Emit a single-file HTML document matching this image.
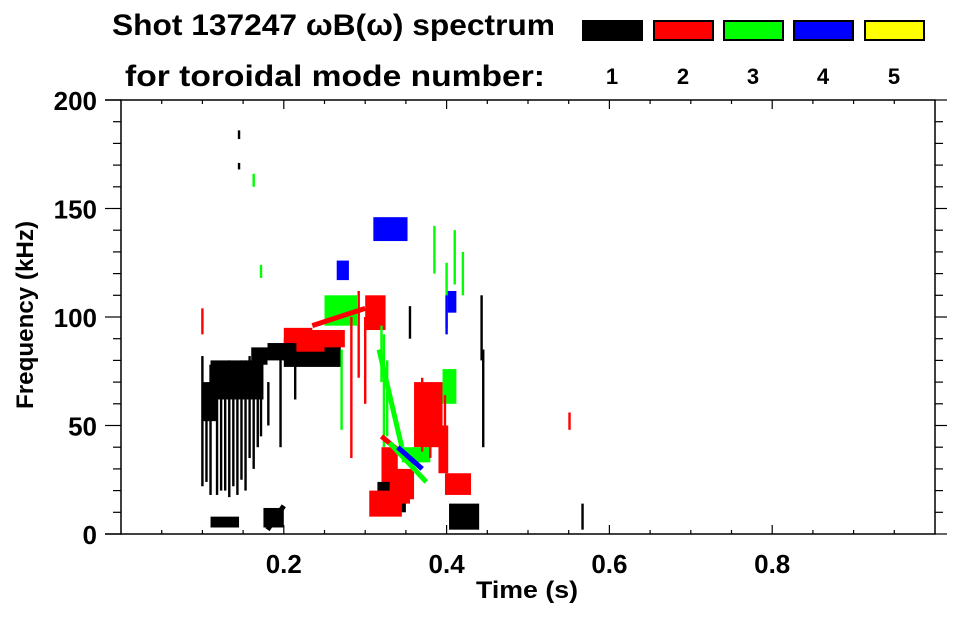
<!DOCTYPE html>
<html><head><meta charset="utf-8"><style>
body{margin:0;background:#fff;}
svg text{font-family:"Liberation Sans",sans-serif;font-weight:bold;fill:#000;}
</style></head><body>
<svg id="chart" width="963" height="615" viewBox="0 0 963 615" xmlns="http://www.w3.org/2000/svg">
<text x="112" y="35" font-size="30" textLength="443" lengthAdjust="spacingAndGlyphs">Shot 137247 ωB(ω) spectrum</text>
<text x="125" y="86" font-size="30" textLength="420" lengthAdjust="spacingAndGlyphs">for toroidal mode number:</text>
<g id="legend"></g>
<g id="marks"></g>
<g id="axes"></g>
<text x="527" y="598" font-size="24" text-anchor="middle" textLength="102" lengthAdjust="spacingAndGlyphs">Time (s)</text>
<text transform="translate(33,315) rotate(-90)" font-size="24" text-anchor="middle" textLength="188" lengthAdjust="spacingAndGlyphs">Frequency (kHz)</text>
</svg>
<script>
const modes=[1,2,3,4,5];
const modeColors=["#000000","#ff0000","#00ff00","#0000ff","#ffff00"];
const xTicks=[0.2,0.4,0.6,0.8];
const yTicks=[0,50,100,150,200];
// blobs: [t0,t1,f0,f1,modeIndex]
const blobT0=[0.110,0.100,0.180,0.200,0.160,0.250,0.265,0.300,0.310,0.320,0.315,0.335,0.360,0.395,0.400,0.403,0.398,0.110,0.175,0.305,0.330,0.200,0.230,0.215,0.345,0.390];
const blobT1=[0.175,0.118,0.235,0.270,0.180,0.290,0.280,0.325,0.352,0.340,0.350,0.360,0.395,0.412,0.412,0.440,0.430,0.145,0.200,0.345,0.355,0.235,0.275,0.250,0.380,0.402];
const blobF0=[62,52,80,77,78,96,117,94,135,20,10,16,40,60,102,2,18,3,3,8,14,88,86,84,33,28];
const blobF1=[80,70,88,90,86,110,126,110,146,40,24,30,70,76,112,14,28,8,12,20,24,95,94,92,40,50];
const blobMode=[0,0,0,0,0,2,3,1,3,1,0,1,1,2,3,0,1,0,0,1,1,1,1,1,2,1];
// vertical streaks: time, f0, f1, mode
const stT=[0.100,0.105,0.110,0.118,0.123,0.128,0.133,0.138,0.143,0.148,0.153,0.158,0.163,0.168,0.172,0.181,0.196,0.214,0.100,0.271,0.283,0.292,0.300,0.320,0.323,0.327,0.370,0.375,0.380,0.385,0.390,0.398,0.355,0.400,0.420,0.445,0.443,0.551,0.567,0.145,0.145,0.163,0.172,0.385,0.410,0.400];
const stF0=[22,24,18,18,20,20,17,22,18,25,20,35,30,40,45,50,40,62,92,48,35,72,60,70,40,45,38,40,35,42,48,45,90,95,110,40,80,48,2,182,168,160,118,120,115,92];
const stF1=[82,60,78,70,78,78,80,78,78,80,80,82,80,78,70,70,88,88,104,85,100,112,100,96,92,80,72,68,70,62,68,64,105,125,130,85,110,56,14,186,171,166,124,142,140,110];
const stMode=[0,0,0,0,0,0,0,0,0,0,0,0,0,0,0,0,0,0,1,2,1,1,1,2,2,2,1,1,1,1,1,1,0,2,2,0,0,1,0,0,0,2,2,2,2,3];
// diagonal tracks: t0,f0,t1,f1,mode
const trT0=[0.317,0.320,0.330,0.235,0.340,0.180];
const trF0=[85,45,42,96,40,2];
const trT1=[0.345,0.355,0.375,0.300,0.370,0.200];
const trF1=[40,34,24,104,30,13];
const trMode=[2,1,2,1,3,0];

const L=121,R=935,T=100,B=534;
const xS=t=>L+(t-0)/(1-0)*(R-L);
const yS=f=>B-(f-0)/(200-0)*(B-T);
const NS="http://www.w3.org/2000/svg";
function mk(tag,attrs,parent){const e=document.createElementNS(NS,tag);for(const k in attrs)e.setAttribute(k,attrs[k]);parent.appendChild(e);return e;}
const marks=document.getElementById('marks');
for(let i=0;i<blobT0.length;i++){
  const x0=xS(blobT0[i]),x1=xS(blobT1[i]),y0=yS(blobF1[i]),y1=yS(blobF0[i]);
  const r=mk('rect',{x:x0,y:y0,width:x1-x0,height:y1-y0,fill:modeColors[blobMode[i]]},marks);
  
  
}
for(let i=0;i<stT.length;i++){
  const x=xS(stT[i]);
  const r=mk('rect',{x:x-1.2,y:yS(stF1[i]),width:2.4,height:yS(stF0[i])-yS(stF1[i]),fill:modeColors[stMode[i]]},marks);
  
  
}
for(let i=0;i<trT0.length;i++){
  const l=mk('line',{x1:xS(trT0[i]),y1:yS(trF0[i]),x2:xS(trT1[i]),y2:yS(trF1[i]),stroke:modeColors[trMode[i]],'stroke-width':5},marks);
  
  
}
// axes
const ax=document.getElementById('axes');
mk('rect',{x:L,y:T,width:R-L,height:B-T,fill:'none',stroke:'#000','stroke-width':1.5},ax);
mk('line',{x1:105,y1:T,x2:L,y2:T,stroke:'#000','stroke-width':1.5},ax);
mk('line',{x1:105,y1:B,x2:L,y2:B,stroke:'#000','stroke-width':1.5},ax);
for(let f=0;f<=200;f+=10){
  const y=yS(f),maj=f%50===0;
  mk('line',{x1:L-(maj?16:8),y1:y,x2:L,y2:y,stroke:'#000','stroke-width':1.2},ax);
  mk('line',{x1:R,y1:y,x2:R+(maj?12:8),y2:y,stroke:'#000','stroke-width':1.2},ax);
}
for(let k=1;k<20;k++){
  const t=k*0.05,x=xS(t),maj=k%4===0;
  mk('line',{x1:x,y1:B,x2:x,y2:B-(maj?9:4),stroke:'#000','stroke-width':1.2},ax);
  mk('line',{x1:x,y1:T,x2:x,y2:T+(maj?9:4),stroke:'#000','stroke-width':1.2},ax);
}
xTicks.forEach(t=>{
  const e=mk('text',{x:xS(t),y:573,'font-size':26,'text-anchor':'middle'},ax);e.textContent=t.toFixed(1);
  
  
});
yTicks.forEach(f=>{
  const e=mk('text',{x:97,y:yS(f)+10,'font-size':26,'text-anchor':'end'},ax);e.textContent=f;
  
  
});
// legend
const lg=document.getElementById('legend');
const lgX=[582,653,723,793,864];
modes.forEach((m,i)=>{
  const r=mk('rect',{x:lgX[i]+1,y:21,width:59,height:19,fill:modeColors[i],stroke:'#000','stroke-width':2},lg);
  
  
  const t=mk('text',{x:lgX[i]+30,y:84,'font-size':22,'text-anchor':'middle'},lg);t.textContent=m;
  
  
});
</script>
</body></html>
